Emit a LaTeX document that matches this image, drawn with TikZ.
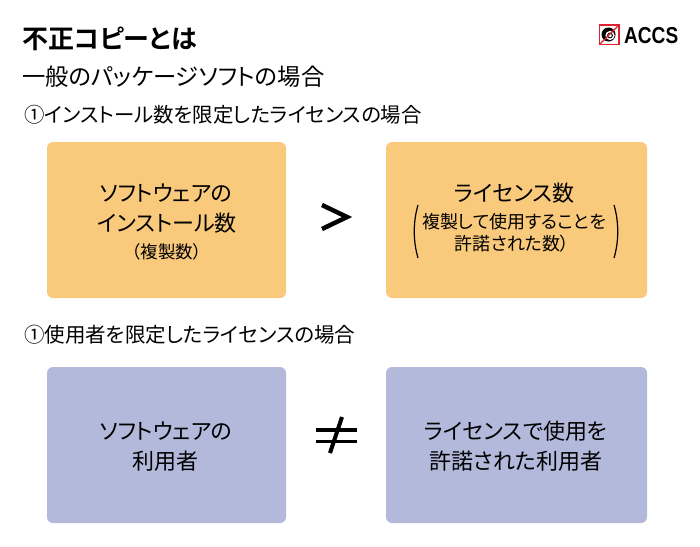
\documentclass[tikz,border=0pt]{standalone}
\usepackage{fontspec}
\setmainfont[RawFeature=+palt]{Noto Sans CJK JP}
\newfontfamily\jpbold[RawFeature=+palt]{Noto Sans CJK JP Bold}
\newfontfamily\latinb{Liberation Sans Bold}
\newcommand{\fs}[1]{\fontsize{#1pt}{#1pt}\selectfont}
\tikzset{
  x=1pt,y=-1pt,
  orangebox/.style={fill=boxorange,rounded corners=6pt},
  bluebox/.style={fill=boxblue,rounded corners=6pt},
  headline/.style={anchor=west,inner sep=0pt,text=black},
  boxtext/.style={align=center,inner sep=0pt,text=black},
}
\definecolor{boxorange}{HTML}{F9C97C}
\definecolor{boxblue}{HTML}{B3B9DA}
\definecolor{logored}{HTML}{E0202A}
\begin{document}
\begin{tikzpicture}
\useasboundingbox (0,0) rectangle (700,546);
\fill[white] (0,0) rectangle (700,546);
\node[headline] (title) at (22,39) {\jpbold\fs{26}不正コピーとは};
\node[headline] (sub) at (22,77) {\fs{23.3}一般のパッケージソフトの場合};
\node[headline] (h1) at (24,115) {\fs{20.4}①インストール数を限定したライセンスの場合};
\node[headline] (h2) at (24,335) {\fs{20.5}①使用者を限定したライセンスの場合};
% logo
\draw[logored,line width=1.2pt,fill=white] (599.5,25) rectangle (619,44.5);
\fill[black] (608.5,34.5) circle (7);
\fill[white] (610,35.5) circle (4.6);
\draw[black,line width=1pt] (610,35.5) circle (2.4);
\draw[logored,line width=1.3pt] (599.5,44.5) -- (619,25);
\node[headline,xscale=.83,anchor=west] (logo) at (624,35.5) {\latinb\fs{23}ACCS};
% boxes
\fill[orangebox] (47,142) rectangle (286,298);
\fill[orangebox] (386,142) rectangle (647,298);
\fill[bluebox] (47,367) rectangle (286,523);
\fill[bluebox] (386,367) rectangle (647,523);
% box text
\node[boxtext] (a1) at (166,193) {\fs{22}ソフトウェアの};
\node[boxtext] (a2) at (167,223) {\fs{22}インストール数};
\node[boxtext] (a3) at (167,252) {\fs{17.5}（複製数）};
\node[boxtext] (b1) at (514,193) {\fs{22}ライセンス数};
\node[boxtext] (b2) at (514,222) {\fs{18}複製して使用することを};
\node[boxtext] (b3) at (512,244) {\fs{18}許諾された数）};
\draw[black,line width=1.2pt] (418,205) .. controls (413,222) and (413,241) .. (418,258);
\draw[black,line width=1.2pt] (614,205) .. controls (619,222) and (619,241) .. (614,258);
\node[boxtext] (c1) at (166,431) {\fs{22}ソフトウェアの};
\node[boxtext] (c2) at (165,461) {\fs{22}利用者};
\node[boxtext] (d1) at (516,431) {\fs{22}ライセンスで使用を};
\node[boxtext] (d2) at (516,461) {\fs{22}許諾された利用者};
% relation signs
\draw[black,line width=4.5pt,miter limit=10] (322,205) -- (347,217) -- (322,229);
\draw[black,line width=4pt] (316,430) -- (357,430);
\draw[black,line width=3pt] (316,441) -- (357,441);
\draw[black,line width=4pt] (342,417) -- (330,453);
\end{tikzpicture}
\end{document}
